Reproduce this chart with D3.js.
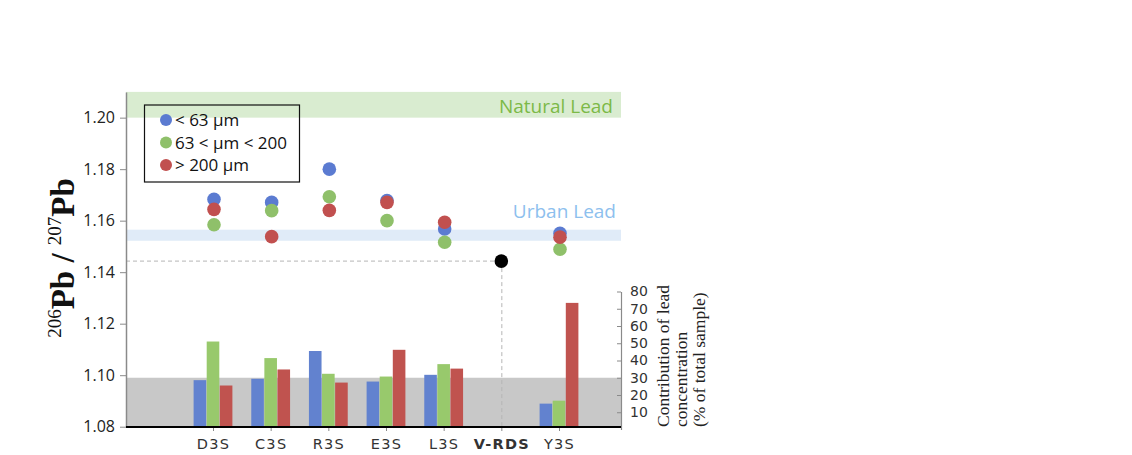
<!DOCTYPE html>
<html>
<head>
<meta charset="utf-8">
<script src="https://cdn.jsdelivr.net/npm/d3@7"></script>
<style>
  html, body { margin: 0; padding: 0; background: #fff; }
  svg { display: block; }
</style>
</head>
<body>
<svg id="chart" width="1132" height="455"></svg>
<script>
// ---- data ----
const categories = ["D3S", "C3S", "R3S", "E3S", "L3S", "V-RDS", "Y3S"];
const seriesNames = ["< 63 µm", "63 < µm < 200", "> 200 µm"];
// 206Pb/207Pb ratio per size fraction
const ratioFine   = [1.1683, 1.1671, 1.1800, 1.1678, 1.1568, null, 1.1551];
const ratioMid    = [1.1584, 1.1639, 1.1693, 1.1600, 1.1516, null, 1.1489];
const ratioCoarse = [1.1644, 1.1538, 1.1640, 1.1671, 1.1594, null, 1.1536];
const vrdsRatio = 1.1443;
// contribution of lead concentration (% of total sample)
const contribFine   = [28.6, 29.4, 45.5, 27.8, 31.7, null, 15.0];
const contribMid    = [51.0, 41.4, 32.3, 30.7, 37.9, null, 16.7];
const contribCoarse = [25.5, 34.8, 27.2, 46.2, 35.3, null, 73.4];
const leftTicks = [1.08, 1.10, 1.12, 1.14, 1.16, 1.18, 1.20];
const rightTicks = [10, 20, 30, 40, 50, 60, 70, 80];
const naturalLead = [1.20, 1.21];
const urbanLead = [1.1522, 1.1565];
const grayLevel = 30;

// ---- styles ----
const dotColors = ["#5b7bd1", "#8fc06a", "#c1504f"];
const barColors = ["#6282cf", "#98c96c", "#c0534f"];

const svg = d3.select("#chart");
const left = 126, right = 621, baseY = 427;

const yL = d3.scaleLinear().domain([1.08, 1.21]).range([426.7, 91.9]);
const yR = d3.scaleLinear().domain([0, 80]).range([429.5, 291.5]);
const x = d3.scalePoint().domain(categories).range([213, 559]);

// bands
svg.append("rect").attr("x", left).attr("width", right - left)
  .attr("y", yL(naturalLead[1])).attr("height", yL(naturalLead[0]) - yL(naturalLead[1]))
  .attr("fill", "#d9ecd0");
svg.append("rect").attr("x", left).attr("width", right - left)
  .attr("y", yL(urbanLead[1])).attr("height", yL(urbanLead[0]) - yL(urbanLead[1]))
  .attr("fill", "#e0ebf8");
svg.append("rect").attr("x", left).attr("width", right - left)
  .attr("y", yR(grayLevel)).attr("height", baseY - yR(grayLevel))
  .attr("fill", "#c8c8c8");

svg.append("text").attr("x", 613).attr("y", 113).attr("text-anchor", "end")
  .attr("font-family", "Open Sans").attr("font-size", 19).attr("fill", "#7cb947")
  .text("Natural Lead");
svg.append("text").attr("x", 616).attr("y", 218).attr("text-anchor", "end")
  .attr("font-family", "Open Sans").attr("font-size", 19).attr("fill", "#8dc0ee")
  .text("Urban Lead");

// bars
const contribSeries = [contribFine, contribMid, contribCoarse];
const bw = 12.6, bstep = 13.1;
contribSeries.forEach((s, si) => {
  svg.append("g").selectAll("rect")
    .data(categories.map((c, i) => ({ c, v: s[i] })).filter(d => d.v != null))
    .join("rect")
    .attr("x", d => x(d.c) + (si - 1) * bstep - bw / 2)
    .attr("width", bw)
    .attr("y", d => yR(d.v))
    .attr("height", d => baseY - yR(d.v))
    .attr("fill", barColors[si]);
});

// dashed guides for V-RDS
svg.append("line").attr("x1", left).attr("x2", x("V-RDS"))
  .attr("y1", yL(vrdsRatio)).attr("y2", yL(vrdsRatio))
  .attr("stroke", "#b5b5b5").attr("stroke-width", 1).attr("stroke-dasharray", "4,3");
svg.append("line").attr("x1", x("V-RDS") + 0.5).attr("x2", x("V-RDS") + 0.5)
  .attr("y1", yL(vrdsRatio)).attr("y2", baseY)
  .attr("stroke", "#b5b5b5").attr("stroke-width", 1).attr("stroke-dasharray", "4,3");

// left axis
const gL = svg.append("g").attr("transform", `translate(${left},0)`)
  .call(d3.axisLeft(yL).tickValues(leftTicks).tickFormat(d3.format(".2f")).tickSize(6).tickPadding(5).tickSizeOuter(0));
gL.select(".domain").attr("stroke", "#8a8a8a").attr("stroke-width", 1.5);
gL.selectAll(".tick line").attr("stroke", "#8a8a8a");
gL.selectAll(".tick text").attr("font-family", "Open Sans").attr("font-size", 16).attr("fill", "#222");

// right axis
const gR = svg.append("g").attr("transform", `translate(${right},0)`)
  .call(d3.axisRight(yR).tickValues(rightTicks).tickSize(-4).tickPadding(9).tickSizeOuter(0));
gR.select(".domain").attr("stroke", "#8a8a8a").attr("stroke-width", 1.2);
gR.selectAll(".tick line").attr("stroke", "#8a8a8a");
gR.selectAll(".tick text").attr("font-family", "DejaVu Sans").attr("font-size", 14).attr("fill", "#333");

// bottom axis
const gB = svg.append("g").attr("transform", `translate(0,${baseY})`)
  .call(d3.axisBottom(x).tickSize(4).tickPadding(8).tickSizeOuter(0));
gB.select(".domain").remove();
gB.selectAll(".tick line").attr("stroke", "#8a8a8a");
gB.selectAll(".tick text").attr("font-family", "DejaVu Sans").attr("font-size", 14.5)
  .attr("letter-spacing", "1.3px").attr("fill", "#333")
  .attr("font-weight", d => d === "V-RDS" ? "bold" : "normal");
svg.append("line").attr("x1", left).attr("x2", right).attr("y1", baseY).attr("y2", baseY)
  .attr("stroke", "#000").attr("stroke-width", 2);

// dots
const ratioSeries = [ratioFine, ratioMid, ratioCoarse];
ratioSeries.forEach((s, si) => {
  svg.append("g").selectAll("circle")
    .data(categories.map((c, i) => ({ c, v: s[i] })).filter(d => d.v != null))
    .join("circle")
    .attr("cx", d => x(d.c) + 1)
    .attr("cy", d => yL(d.v))
    .attr("r", 6.8)
    .attr("fill", dotColors[si]);
});
svg.append("circle").attr("cx", x("V-RDS")).attr("cy", yL(vrdsRatio)).attr("r", 6.8).attr("fill", "#000");

// legend
const lg = svg.append("g");
lg.append("rect").attr("x", 144.5).attr("y", 105).attr("width", 155).attr("height", 77)
  .attr("fill", "none").attr("stroke", "#111").attr("stroke-width", 1.2);
seriesNames.forEach((n, i) => {
  const cy = 120 + i * 22.5;
  lg.append("circle").attr("cx", 166).attr("cy", cy).attr("r", 6).attr("fill", dotColors[i]);
  lg.append("text").attr("x", 175).attr("y", cy + 6)
    .attr("font-family", "Open Sans").attr("font-size", 17).attr("fill", "#111").text(n);
});

// left title
const tl = svg.append("text").attr("transform", "translate(74,258) rotate(-90)")
  .attr("text-anchor", "middle").attr("font-family", "Liberation Serif")
  .attr("font-weight", "bold").attr("font-size", 33).attr("fill", "#111");
tl.append("tspan").attr("font-size", 19).attr("font-weight", "normal").attr("dy", -13).text("206");
tl.append("tspan").attr("dy", 13).text("Pb / ");
tl.append("tspan").attr("font-size", 19).attr("font-weight", "normal").attr("dy", -13).text("207");
tl.append("tspan").attr("dy", 13).text("Pb");

// right title
const rLines = ["Contribution of lead", "concentration", "(% of total sample)"];
rLines.forEach((t, i) => {
  svg.append("text").attr("transform", `translate(${669 + i * 18},427) rotate(-90)`)
    .attr("text-anchor", "start").attr("font-family", "Liberation Serif")
    .attr("font-size", 17.5).attr("fill", "#222").text(t);
});
</script>
</body>
</html>
